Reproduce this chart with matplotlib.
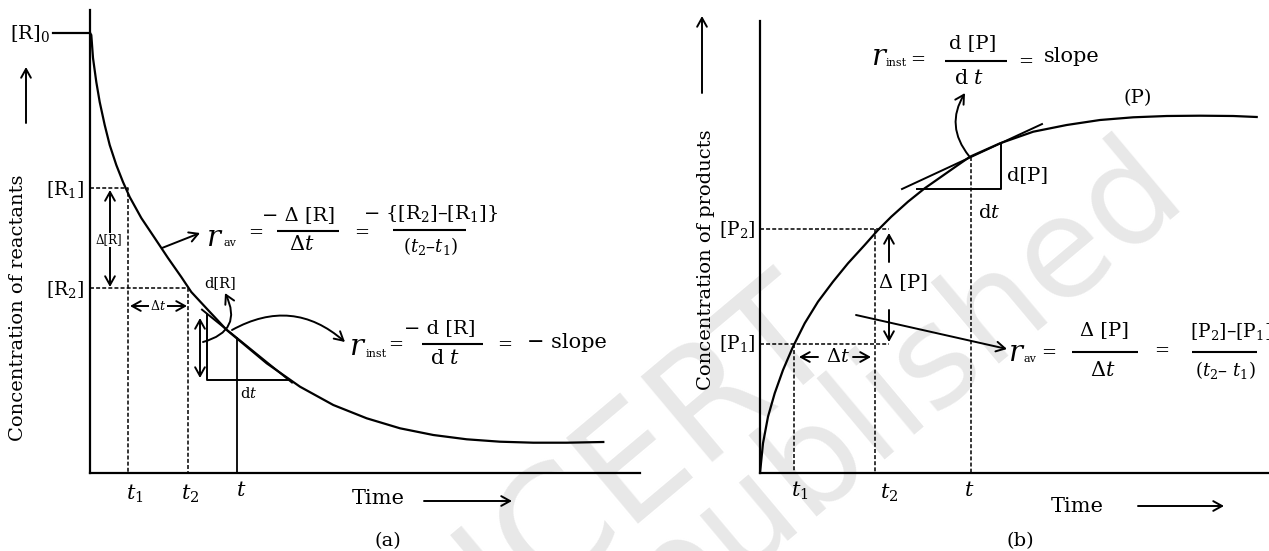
import numpy as np
import matplotlib.pyplot as plt
from matplotlib.patches import FancyArrowPatch

plt.rcParams['font.family'] = 'DejaVu Serif'
plt.rcParams['mathtext.fontset'] = 'dejavuserif'

# ---- data (arbitrary units) ----
# (a) reactant decay
time_a = [0.0, 0.13, 0.3, 0.63, 0.97, 1.47, 1.97, 2.63, 3.3, 3.97, 5.13, 6.47,
          7.8, 9.13, 10.13, 11.8, 13.67, 14.67, 17.67, 21.0, 24.33, 27.67,
          31.0, 34.33, 37.67, 41.0, 44.33, 47.67, 51.33]
conc_a = [44.0, 43.8, 41.5, 39.1, 37.1, 34.8, 32.8, 30.8, 29.1, 27.6, 25.5,
          23.5, 21.5, 19.6, 18.1, 16.3, 14.3, 13.47, 10.97, 8.63, 6.8, 5.47,
          4.47, 3.8, 3.37, 3.13, 3.03, 3.03, 3.1]
t_a = [3.8, 9.8, 14.7]          # t1, t2, t
r_a = [44.0, 28.5, 18.5, 13.5]  # [R]0, [R1], [R2], [R] at t
slope_a = -0.81

# (b) product growth
time_b = [0.0, 0.3, 0.8, 1.47, 2.3, 3.3, 4.47, 5.8, 7.3, 8.8, 10.47, 11.8,
          13.13, 14.8, 16.47, 18.13, 19.8, 21.0, 24.0, 27.33, 30.67, 34.0,
          37.33, 40.67, 44.0, 47.33, 49.67]
conc_b = [0.0, 2.97, 5.63, 7.97, 10.3, 12.63, 14.97, 17.13, 19.13, 20.97,
          22.8, 24.3, 25.63, 27.13, 28.47, 29.63, 30.8, 31.63, 32.97, 34.13,
          34.8, 35.3, 35.57, 35.7, 35.73, 35.7, 35.6]
t_b = [3.4, 11.5, 21.1]         # t1, t2, t
p_b = [12.9, 24.4, 31.6]        # [P1], [P2], [P] at t
slope_b = 0.464

W, H = 1269, 551
fig = plt.figure(figsize=(W / 100, H / 100), dpi=100)

# watermark
wm = dict(family='DejaVu Sans', color='#e8e8e8', rotation=40,
          rotation_mode='anchor', ha='right', va='baseline', zorder=-5)
fig.text(845 / W, 1 - 350 / H, '© NCERT', fontsize=110, **wm)
fig.text(1190 / W, 1 - 203 / H, 'not to be republished', fontsize=100, **wm)

ax_a = fig.add_axes([90 / W, 1 - 473 / H, (640 - 90) / W, (473 - 10) / H])
ax_a.set_xlim(0, 55)
ax_a.set_ylim(0, 46.3)
ax_b = fig.add_axes([760 / W, 1 - 473 / H, (W - 760) / W, (473 - 21) / H])
ax_b.set_xlim(0, 50.9)
ax_b.set_ylim(0, 45.2)
for ax in (ax_a, ax_b):
    ax.spines['top'].set_visible(False)
    ax.spines['right'].set_visible(False)
    ax.spines['left'].set_linewidth(1.6)
    ax.spines['bottom'].set_linewidth(1.6)
    ax.set_xticks([])
    ax.set_yticks([])
    ax.patch.set_visible(False)

dash = (0, (2.6, 1.4))

# ---- panel (a) ----
ax_a.plot(time_a, conc_a, color='k', lw=1.6)
for tt, rr in zip(t_a[:2], r_a[1:3]):
    ax_a.plot([0, tt, tt], [rr, rr, 0], color='k', lw=1.1, ls=dash)
ax_a.plot([t_a[2], t_a[2]], [r_a[3], 0], color='k', lw=1.3)
ax_a.plot([-3.7, 0], [r_a[0], r_a[0]], color='k', lw=1.6, clip_on=False)
xs = np.array([11.2, 20.2])
ax_a.plot(xs, r_a[3] + slope_a * (xs - t_a[2]), color='k', lw=1.4)
x_v, y_base = 11.7, 9.3
x_r = t_a[2] + (y_base - r_a[3]) / slope_a
ax_a.plot([x_v, x_v, x_r], [r_a[3] + slope_a * (x_v - t_a[2]), y_base, y_base],
          color='k', lw=1.4)

# ---- panel (b) ----
ax_b.plot(time_b, conc_b, color='k', lw=1.6)
for pp in p_b[:2]:
    ax_b.plot([0, 12.9], [pp, pp], color='k', lw=1.1, ls=dash)
for tt, pp in zip(t_b, p_b):
    ax_b.plot([tt, tt], [pp, 0], color='k', lw=1.1, ls=dash)
xs = np.array([14.2, 28.2])
ax_b.plot(xs, p_b[2] + slope_b * (xs - t_b[2]), color='k', lw=1.4)
x_l, x_v, y_base = 15.7, 24.1, 28.4
ax_b.plot([x_l, x_v, x_v], [y_base, y_base, p_b[2] + slope_b * (x_v - t_b[2])],
          color='k', lw=1.4)

# ---- overlay for labels and arrows (pixel coordinates) ----
ov = fig.add_axes([0, 0, 1, 1])
ov.set_xlim(0, W)
ov.set_ylim(H, 0)
ov.axis('off')
ov.patch.set_visible(False)


def arrow(p0, p1, style='->', rad=0.0, lw=1.4):
    ov.add_patch(FancyArrowPatch(p0, p1, arrowstyle=style + ',head_length=0.45,head_width=0.25',
                                 connectionstyle='arc3,rad=%s' % rad, lw=lw, color='k',
                                 shrinkA=0, shrinkB=0, mutation_scale=14))


def txt(x, y, s, size=14, ha='center', va='center', **kw):
    ov.text(x, y, s, fontsize=size, ha=ha, va=va, **kw)


def bar(x0, x1, y):
    ov.plot([x0, x1], [y, y], color='k', lw=1.5, solid_capstyle='butt')


white = dict(facecolor='white', edgecolor='none', pad=0.5)

# (a) labels
txt(50, 33, r'[R]$_0$', ha='right', size=14)
arrow((26, 123), (26, 67))
txt(18, 308, 'Concentration of reactants', rotation=90, size=14)
txt(84, 190, r'[R$_1$]', ha='right', size=13.5)
txt(84, 290, r'[R$_2$]', ha='right', size=13.5)
txt(135, 494, r'$t_1$', size=15)
txt(190, 494, r'$t_2$', size=15)
txt(241, 491, r'$t$', size=15)
txt(378, 499, 'Time', size=15)
arrow((424, 501), (512, 501))
txt(388, 541, '(a)', size=14)

arrow((110, 190), (110, 287), style='<->')
txt(109, 240, 'Δ[R]', size=8.5, bbox=white)
arrow((130, 306), (187, 306), style='<->')
txt(158, 306, r'Δ$t$', size=9, bbox=white)
arrow((200, 318), (200, 378), style='<->')
arrow((203, 342), (225, 293), rad=0.6)
txt(220, 283, 'd[R]', size=10.5)
txt(249, 393, r'd$t$', size=10.5)
arrow((232, 330), (345, 342), rad=-0.35)
arrow((162, 248), (200, 233))

# r_av equation (a)
txt(215, 246, r'$r$', size=21, va='baseline')
txt(223, 246, 'av', size=8, ha='left', va='baseline')
txt(256, 233, '=', size=13)
txt(298, 215, '− Δ [R]', size=14)
bar(277, 339, 231)
txt(302, 245, r'Δ$t$', size=15)
txt(362, 233, '=', size=13)
txt(431, 213, r'− {[R$_2$]–[R$_1$]}', size=14)
bar(393, 466, 230)
txt(431, 246, r'$(t_2$–$t_1)$', size=13)

# r_inst equation (a)
txt(358, 355, r'$r$', size=21, va='baseline')
txt(366, 357, 'inst', size=8, ha='left', va='baseline')
txt(396, 345, '=', size=13)
txt(440, 328, '− d [R]', size=14)
bar(422, 483, 344)
txt(445, 359, r'd $t$', size=15)
txt(505, 345, '=', size=13)
txt(567, 342, '− slope', size=15)

# (b) labels
arrow((702, 93), (702, 16))
txt(706, 260, 'Concentration of products', rotation=90, size=14)
txt(756, 229, r'[P$_2$]', ha='right', size=13.5)
txt(756, 344, r'[P$_1$]', ha='right', size=13.5)
txt(800, 491, r'$t_1$', size=15)
txt(889, 493, r'$t_2$', size=15)
txt(969, 490, r'$t$', size=15)
txt(1077, 506, 'Time', size=15)
arrow((1138, 506), (1224, 506))
txt(1020, 541, '(b)', size=14)

arrow((889, 262), (889, 233))
arrow((889, 310), (889, 342))
txt(903, 282, 'Δ [P]', size=14)
arrow((818, 357), (799, 357))
txt(838, 357, r'Δ$t$', size=14)
arrow((853, 357), (871, 357))
txt(1028, 175, 'd[P]', size=14)
txt(989, 213, r'd$t$', size=14)
arrow((969, 156), (965, 93), rad=-0.35)
txt(1138, 98, '(P)', size=14)
arrow((856, 315), (1007, 349))

# r_inst equation (b)
txt(880, 65, r'$r$', size=21, va='baseline')
txt(886, 66, 'inst', size=8, ha='left', va='baseline')
txt(918, 60, '=', size=13)
txt(973, 43, 'd [P]', size=14)
bar(945, 1007, 61)
txt(969, 78, r'd $t$', size=15)
txt(1026, 62, '=', size=13)
txt(1072, 57, 'slope', size=15)

# r_av equation (b)
txt(1017, 361, r'$r$', size=21, va='baseline')
txt(1023, 362, 'av', size=8, ha='left', va='baseline')
txt(1049, 353, '=', size=13)
txt(1104, 330, 'Δ [P]', size=14)
bar(1072, 1138, 352)
txt(1103, 370, r'Δ$t$', size=15)
txt(1162, 351, '=', size=13)
txt(1190, 332, r'[P$_2$]–[P$_1$]', size=13.5, ha='left')
bar(1192, 1257, 352)
txt(1225, 370, r'$(t_2$– $t_1)$', size=13)

fig.savefig('out.png', dpi=100)
